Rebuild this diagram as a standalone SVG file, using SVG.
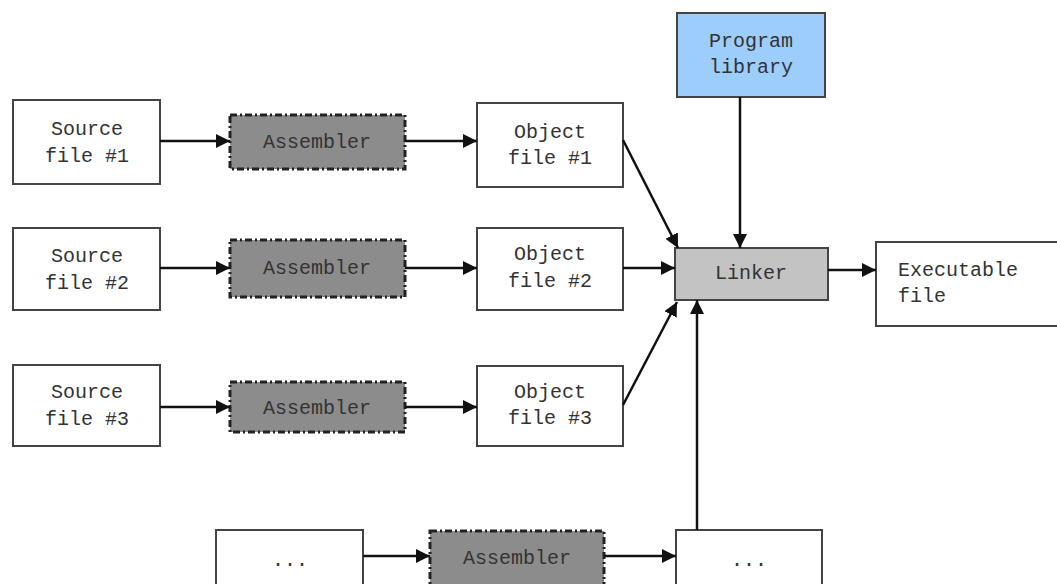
<svg xmlns="http://www.w3.org/2000/svg" width="1057" height="584" viewBox="0 0 1057 584">
<defs>
<marker id="ah" viewBox="0 0 10 10" refX="10" refY="5" markerWidth="14" markerHeight="14" markerUnits="userSpaceOnUse" orient="auto">
<path d="M0,0 L10,5 L0,10 z" fill="#111"/>
</marker>
<style>
.box{fill:#fff;stroke:#444;stroke-width:2}
.asm{fill:#8c8c8c;stroke:#222;stroke-width:3;stroke-dasharray:7 3 2 3}
.lnk{fill:#c3c3c3;stroke:#444;stroke-width:2}
.lib{fill:#9ccdfb;stroke:#444;stroke-width:2}
.t{font-family:"Liberation Mono","DejaVu Sans Mono",monospace;font-size:20px;fill:#333;text-anchor:middle}
.c{stroke:#111;stroke-width:2.5;fill:none;marker-end:url(#ah)}
</style>
</defs>
<rect width="1057" height="584" fill="#fff"/>
<g id="src1"><rect class="box" x="13" y="100" width="147" height="84"/><text class="t" x="87" y="135">Source</text><text class="t" x="87" y="162">file #1</text></g>
<g id="src2"><rect class="box" x="13" y="228" width="147" height="82"/><text class="t" x="87" y="262">Source</text><text class="t" x="87" y="289">file #2</text></g>
<g id="src3"><rect class="box" x="13" y="365" width="147" height="81"/><text class="t" x="87" y="398">Source</text><text class="t" x="87" y="425">file #3</text></g>
<g id="src4"><rect class="box" x="216" y="530" width="147" height="60"/><text class="t" x="290" y="566">...</text></g>
<g id="asm1"><rect class="asm" x="230" y="115" width="175" height="54"/><text class="t" x="317" y="148">Assembler</text></g>
<g id="asm2"><rect class="asm" x="230" y="240" width="175" height="57"/><text class="t" x="317" y="274">Assembler</text></g>
<g id="asm3"><rect class="asm" x="230" y="382" width="175" height="50"/><text class="t" x="317" y="414">Assembler</text></g>
<g id="asm4"><rect class="asm" x="430" y="531" width="174" height="60"/><text class="t" x="517" y="564">Assembler</text></g>
<g id="obj1"><rect class="box" x="477" y="103" width="146" height="84"/><text class="t" x="550" y="138">Object</text><text class="t" x="550" y="164">file #1</text></g>
<g id="obj2"><rect class="box" x="477" y="228" width="146" height="82"/><text class="t" x="550" y="260">Object</text><text class="t" x="550" y="287">file #2</text></g>
<g id="obj3"><rect class="box" x="477" y="366" width="146" height="80"/><text class="t" x="550" y="398">Object</text><text class="t" x="550" y="424">file #3</text></g>
<g id="obj4"><rect class="box" x="676" y="530" width="146" height="60"/><text class="t" x="749" y="566">...</text></g>
<g id="lib"><rect class="lib" x="677" y="13" width="148" height="84"/><text class="t" x="751" y="47">Program</text><text class="t" x="751" y="73">library</text></g>
<g id="linker"><rect class="lnk" x="675" y="248" width="153" height="52"/><text class="t" x="751" y="279">Linker</text></g>
<g id="exe"><rect class="box" x="876" y="242" width="190" height="84"/><text class="t" x="898" y="276" style="text-anchor:start">Executable</text><text class="t" x="898" y="302" style="text-anchor:start">file</text></g>
<g id="connectors">
<line class="c" x1="160" y1="141" x2="230" y2="141"/>
<line class="c" x1="160" y1="268" x2="230" y2="268"/>
<line class="c" x1="160" y1="407" x2="230" y2="407"/>
<line class="c" x1="363" y1="556" x2="430" y2="556"/>
<line class="c" x1="405" y1="141" x2="477" y2="141"/>
<line class="c" x1="405" y1="268" x2="477" y2="268"/>
<line class="c" x1="405" y1="407" x2="477" y2="407"/>
<line class="c" x1="604" y1="556" x2="676" y2="556"/>
<line class="c" x1="623" y1="140" x2="678" y2="248"/>
<line class="c" x1="623" y1="268" x2="675" y2="268"/>
<line class="c" x1="623" y1="405" x2="677" y2="302"/>
<line class="c" x1="740" y1="97" x2="740" y2="248"/>
<line class="c" x1="697" y1="530" x2="697" y2="300"/>
<line class="c" x1="828" y1="270" x2="876" y2="270"/>
</g>
</svg>
